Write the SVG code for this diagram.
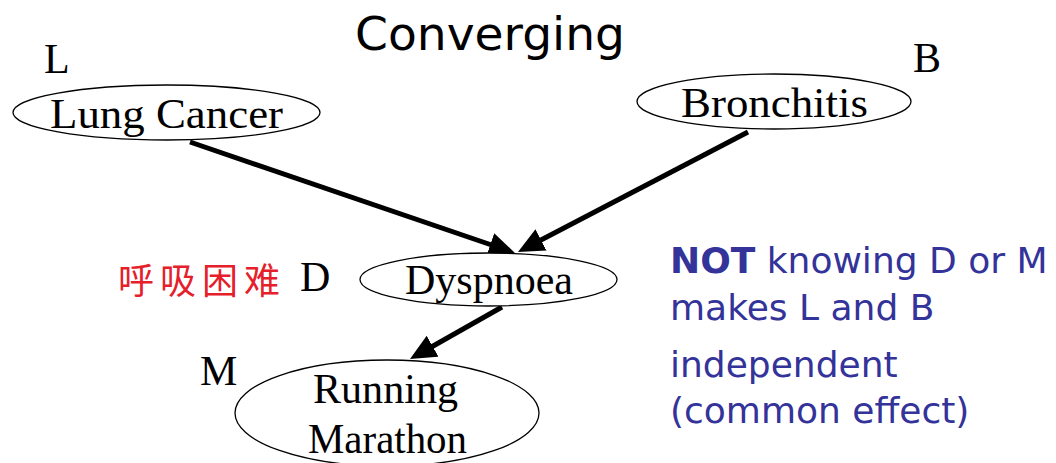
<svg xmlns="http://www.w3.org/2000/svg" width="1056" height="463" viewBox="0 0 1056 463">
<style>
.node{fill:#fff;stroke:#000;stroke-width:1.3}
.lbl{font-family:"Liberation Serif","Times New Roman",serif;font-size:42px;fill:#000}
.edge{stroke:#000;stroke-width:5;fill:none}
.note{font-family:"DejaVu Sans",Verdana,sans-serif;font-size:36px;fill:#333399}
</style>
<defs>
<marker id="ah" markerUnits="userSpaceOnUse" markerWidth="30" markerHeight="26" refX="6" refY="12" orient="auto">
<path d="M0,0 L26,12 L0,24 z" fill="#000"/>
</marker>
</defs>
<rect width="1056" height="463" fill="#fff"/>
<text x="490" y="50" text-anchor="middle" font-family="'DejaVu Sans',Tahoma,sans-serif" font-size="46" textLength="270" lengthAdjust="spacingAndGlyphs">Converging</text>
<g id="connectors">
<line class="edge" x1="190" y1="142" x2="496" y2="246.5" marker-end="url(#ah)"/>
<line class="edge" x1="748" y1="132" x2="535.7" y2="242.7" marker-end="url(#ah)"/>
<line class="edge" x1="502" y1="307" x2="427.4" y2="349.2" marker-end="url(#ah)"/>
</g>
<g id="node-L">
<ellipse class="node" cx="166.5" cy="112.5" rx="153.5" ry="27.5"/>
<text class="lbl" x="50" y="128" textLength="233" lengthAdjust="spacingAndGlyphs">Lung Cancer</text>
<text class="lbl" x="44" y="73">L</text>
</g>
<g id="node-B">
<ellipse class="node" cx="774" cy="101.5" rx="137" ry="27.5"/>
<text class="lbl" x="681" y="117" textLength="187" lengthAdjust="spacingAndGlyphs">Bronchitis</text>
<text class="lbl" x="913" y="72">B</text>
</g>
<g id="node-D">
<ellipse class="node" cx="488.5" cy="279.5" rx="128.5" ry="26.5"/>
<text class="lbl" x="405" y="294" textLength="168" lengthAdjust="spacingAndGlyphs">Dyspnoea</text>
<text class="lbl" x="300" y="291">D</text>
<text x="118" y="294" font-family="'Noto Sans CJK SC','Noto Sans CJK TC',sans-serif" font-size="36" letter-spacing="6" fill="#e5202a">呼吸困难</text>
</g>
<g id="node-M">
<ellipse class="node" cx="387" cy="413" rx="152" ry="53"/>
<text class="lbl" x="313" y="403" textLength="145" lengthAdjust="spacingAndGlyphs">Running</text>
<text class="lbl" x="308" y="453" textLength="159" lengthAdjust="spacingAndGlyphs">Marathon</text>
<text class="lbl" x="200" y="385">M</text>
</g>
<g id="note">
<text class="note" x="670" y="273"><tspan font-weight="bold">NOT</tspan> knowing D or M</text>
<text class="note" x="670" y="320">makes L and B</text>
<text class="note" x="670" y="377">independent</text>
<text class="note" x="670" y="423">(common effect)</text>
</g>
</svg>
